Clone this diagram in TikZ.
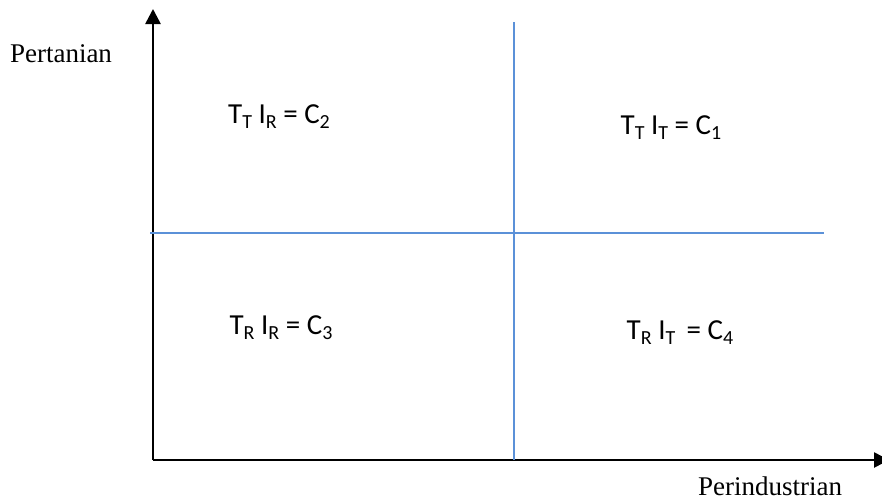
\documentclass[tikz,border=0pt]{standalone}
\usepackage{fontspec}
\setmainfont{Liberation Serif}
\newfontfamily\quadfont{Carlito}
\usetikzlibrary{arrows.meta, positioning}
\usepackage{xcolor}
\definecolor{gridblue}{RGB}{91,145,216}

\newcommand{\lowidx}[1]{\raisebox{-0.2em}{\fontsize{20}{20}\selectfont #1}}

\begin{document}
\begin{tikzpicture}[
    x=1pt, y=-1pt,
    axis/.style={line width=2.6pt, -{Triangle[length=15pt,width=15pt]}},
    divider/.style={gridblue, line width=1.8pt},
    axislabel/.style={font=\fontsize{27}{30}\selectfont, inner sep=0pt},
    cell/.style={font=\quadfont\fontsize{29}{32}\selectfont, anchor=base, inner sep=0pt}
]
\useasboundingbox (0,0) rectangle (882,501);

% axes
\coordinate (origin) at (153,460);
\coordinate (ytip) at (153,9);
\coordinate (xtip) at (889,460);
\draw[axis] (origin) -- (ytip);
\draw[axis] (origin) -- (xtip);

% quadrant lines
\coordinate (vtop) at (514,22);
\coordinate (vbot) at (514,460);
\coordinate (hleft) at (150,233);
\coordinate (hright) at (824,233);
\draw[divider] (vtop) -- (vbot);
\draw[divider] (hleft) -- (hright);

\node[axislabel] (pertanian) at (61,54) {Pertanian};
\node[axislabel] (perindustrian) at (770,486) {Perindustrian};

\node[cell] (c2) at (279,123) {T\lowidx{T} I\lowidx{R} = C\lowidx{2}};
\node[cell] (c1) at (671,134) {T\lowidx{T} I\lowidx{T} = C\lowidx{1}};
\node[cell] (c3) at (281,334) {T\lowidx{R} I\lowidx{R} = C\lowidx{3}};
\node[cell] (c4) at (680,339) {T\lowidx{R} I\lowidx{T}\, = C\lowidx{4}};

\end{tikzpicture}
\end{document}
